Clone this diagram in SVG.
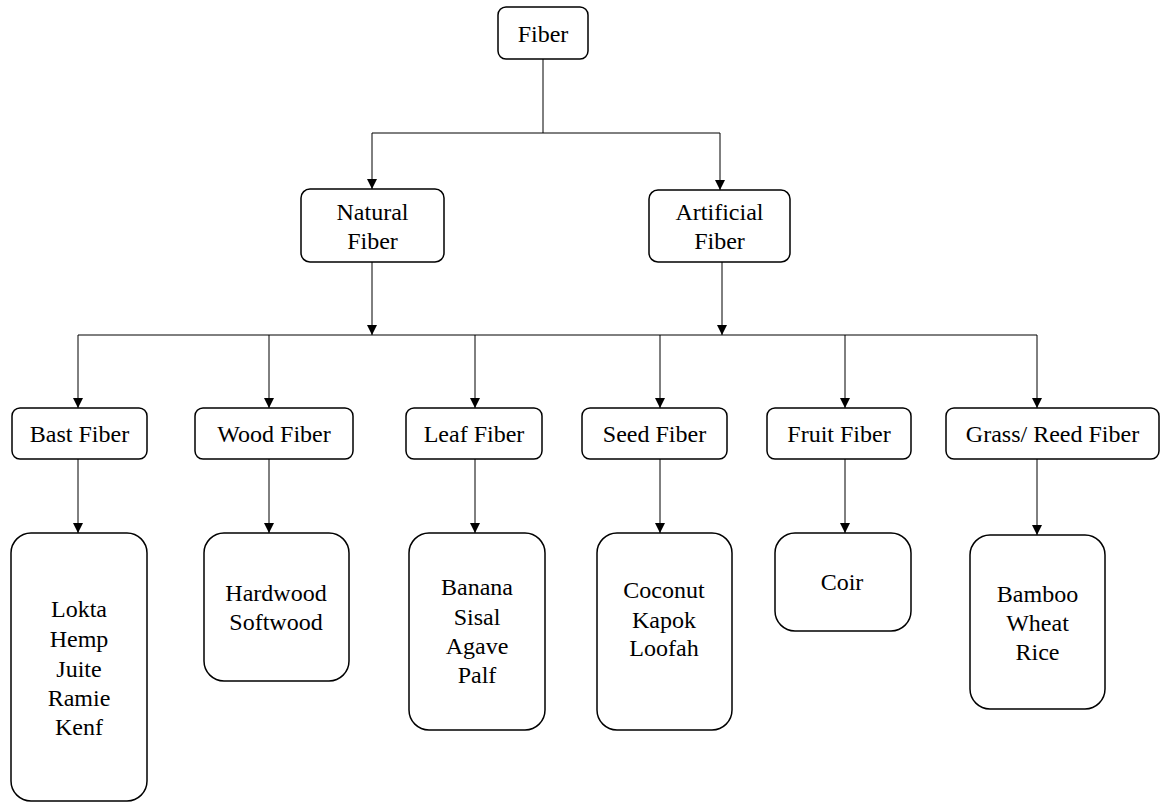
<svg xmlns="http://www.w3.org/2000/svg" width="1160" height="803" viewBox="0 0 1160 803" font-family="Liberation Serif, Times New Roman, serif">
<style>
.box{fill:#fff;stroke:#000;stroke-width:1.5}
.t{font-size:24px;fill:#000;text-anchor:middle}
.c{fill:none;stroke:#000;stroke-width:1}
</style>
<defs>
<marker id="arr" markerUnits="userSpaceOnUse" markerWidth="10" markerHeight="10" refX="10" refY="5" orient="auto">
<path d="M0,0 L10,5 L0,10 z" fill="#000"/>
</marker>
</defs>
<rect width="1160" height="803" fill="#fff"/>
<g id="connectors">
<path class="c" d="M543,59 V133 H372"/>
<path class="c" d="M372,133 V189" marker-end="url(#arr)"/>
<path class="c" d="M543,133 H720 V190" marker-end="url(#arr)"/>
<path class="c" d="M372,262 V335" marker-end="url(#arr)"/>
<path class="c" d="M722,262 V335" marker-end="url(#arr)"/>
<path class="c" d="M78,335 H1037"/>
<path class="c" d="M78,335 V408" marker-end="url(#arr)"/>
<path class="c" d="M269,335 V408" marker-end="url(#arr)"/>
<path class="c" d="M475,335 V408" marker-end="url(#arr)"/>
<path class="c" d="M660,335 V408" marker-end="url(#arr)"/>
<path class="c" d="M845,335 V408" marker-end="url(#arr)"/>
<path class="c" d="M1037,335 V408" marker-end="url(#arr)"/>
<path class="c" d="M78,459 V533" marker-end="url(#arr)"/>
<path class="c" d="M269,459 V533" marker-end="url(#arr)"/>
<path class="c" d="M475,459 V533" marker-end="url(#arr)"/>
<path class="c" d="M660,459 V533" marker-end="url(#arr)"/>
<path class="c" d="M845,459 V533" marker-end="url(#arr)"/>
<path class="c" d="M1037,459 V535" marker-end="url(#arr)"/>
</g>
<g id="fiber"><rect class="box" x="498" y="7" width="90" height="52" rx="8"/><text class="t" x="543" y="42">Fiber</text></g>
<g id="natural"><rect class="box" x="301" y="189" width="143" height="73" rx="9"/><text class="t" x="372.5" y="220">Natural</text><text class="t" x="372.5" y="249">Fiber</text></g>
<g id="artificial"><rect class="box" x="649" y="190" width="141" height="72" rx="9"/><text class="t" x="719.5" y="220">Artificial</text><text class="t" x="719.5" y="249">Fiber</text></g>
<g id="bast"><rect class="box" x="12" y="408" width="135" height="51" rx="8"/><text class="t" x="79.5" y="442">Bast Fiber</text></g>
<g id="wood"><rect class="box" x="195" y="408" width="158" height="51" rx="8"/><text class="t" x="274" y="442">Wood Fiber</text></g>
<g id="leaf"><rect class="box" x="406" y="408" width="136" height="51" rx="8"/><text class="t" x="474" y="442">Leaf Fiber</text></g>
<g id="seed"><rect class="box" x="582" y="408" width="145" height="51" rx="8"/><text class="t" x="654.5" y="442">Seed Fiber</text></g>
<g id="fruit"><rect class="box" x="767" y="408" width="144" height="51" rx="8"/><text class="t" x="839" y="442">Fruit Fiber</text></g>
<g id="grass"><rect class="box" x="946" y="408" width="213" height="51" rx="8"/><text class="t" x="1052.5" y="442">Grass/ Reed Fiber</text></g>
<g id="bast-list"><rect class="box" x="11" y="533" width="136" height="268" rx="20"/>
<text class="t" x="79" y="617">Lokta</text><text class="t" x="79" y="647">Hemp</text><text class="t" x="79" y="677">Juite</text><text class="t" x="79" y="706">Ramie</text><text class="t" x="79" y="735">Kenf</text></g>
<g id="wood-list"><rect class="box" x="204" y="533" width="145" height="148" rx="20"/>
<text class="t" x="276" y="601">Hardwood</text><text class="t" x="276" y="630">Softwood</text></g>
<g id="leaf-list"><rect class="box" x="409" y="533" width="136" height="197" rx="20"/>
<text class="t" x="477" y="595">Banana</text><text class="t" x="477" y="625">Sisal</text><text class="t" x="477" y="654">Agave</text><text class="t" x="477" y="683">Palf</text></g>
<g id="seed-list"><rect class="box" x="597" y="533" width="135" height="197" rx="20"/>
<text class="t" x="664" y="598">Coconut</text><text class="t" x="664" y="628">Kapok</text><text class="t" x="664" y="656">Loofah</text></g>
<g id="fruit-list"><rect class="box" x="775" y="533" width="136" height="98" rx="20"/>
<text class="t" x="842" y="590">Coir</text></g>
<g id="grass-list"><rect class="box" x="970" y="535" width="135" height="174" rx="20"/>
<text class="t" x="1037.5" y="602">Bamboo</text><text class="t" x="1037.5" y="631">Wheat</text><text class="t" x="1037.5" y="660">Rice</text></g>
</svg>
